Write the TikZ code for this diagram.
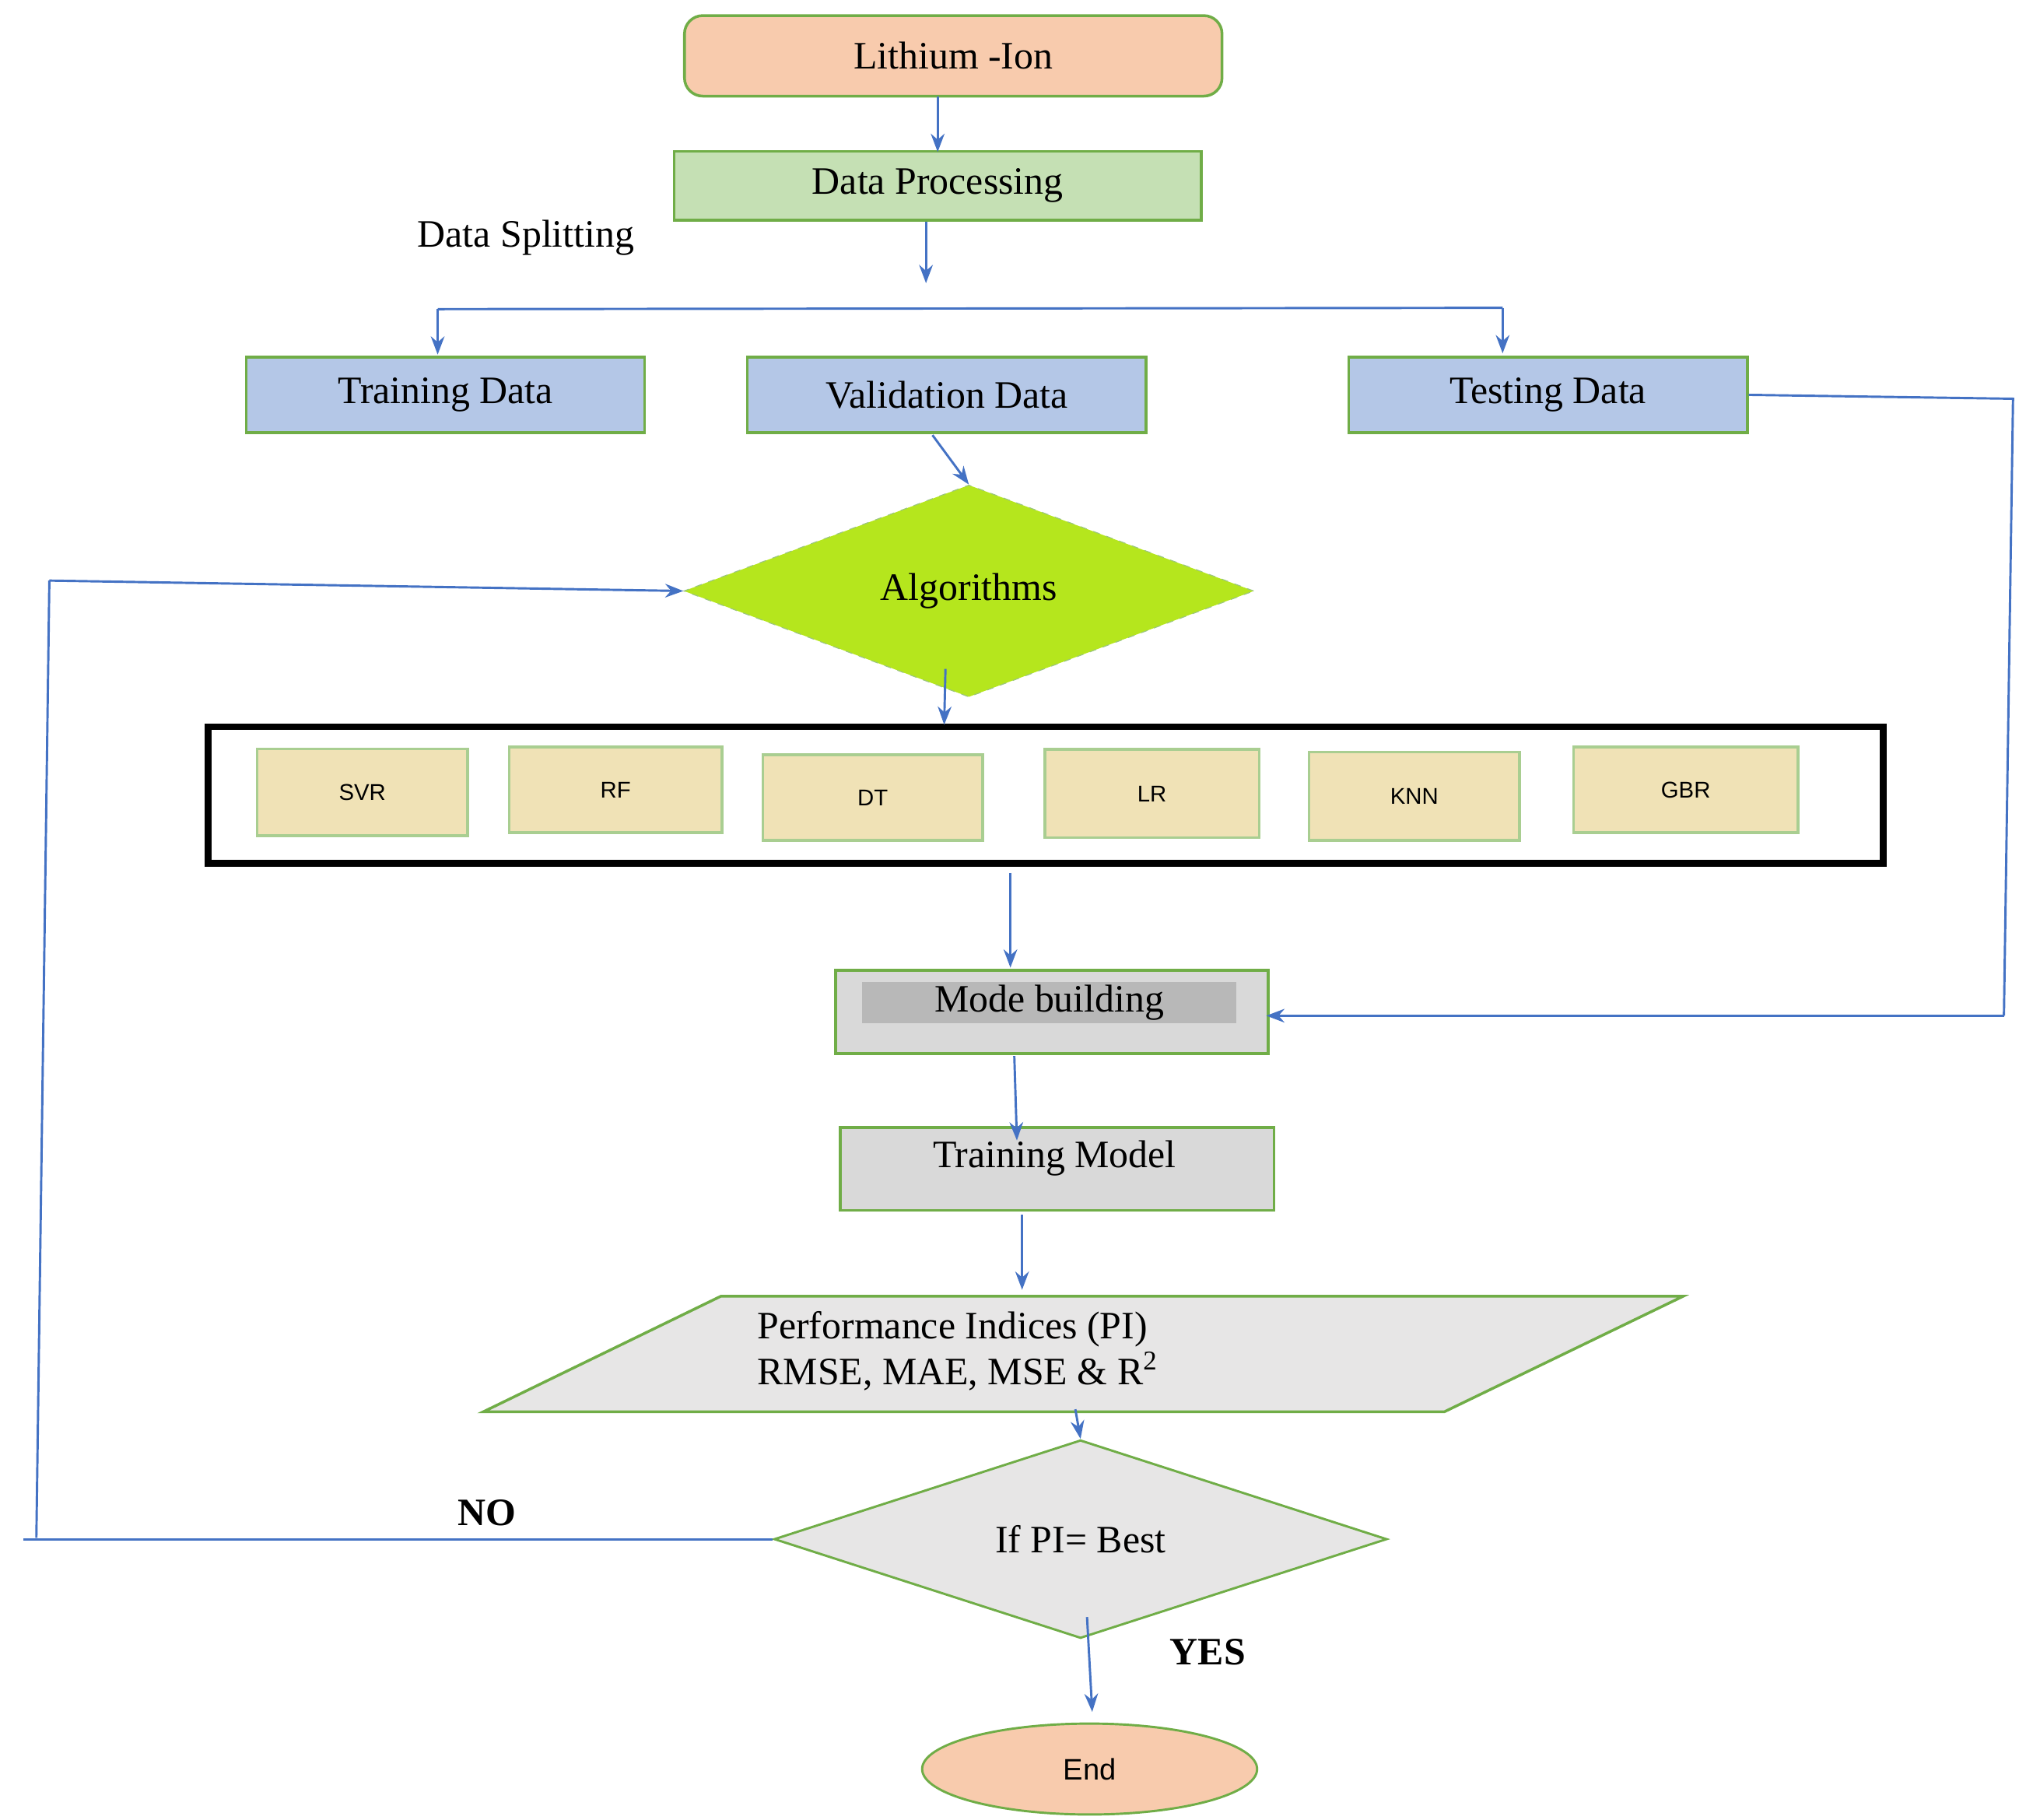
\documentclass[tikz,border=0pt]{standalone}
\usepackage{fontspec}
\setmainfont{Liberation Serif}
\newfontfamily\sansf{Liberation Sans}
\usetikzlibrary{shapes.geometric,arrows.meta}
\definecolor{peach}{HTML}{F8CBAD}
\definecolor{lgreen}{HTML}{C5E0B4}
\definecolor{lblue}{HTML}{B4C7E7}
\definecolor{bord}{HTML}{70AD47}
\definecolor{arr}{HTML}{4472C4}
\definecolor{khaki}{HTML}{F0E2B6}
\definecolor{lime}{HTML}{B5E61D}
\definecolor{gry}{HTML}{D9D9D9}
\definecolor{gry2}{HTML}{E7E6E6}
\begin{document}
\begin{tikzpicture}[x=0.02cm,y=-0.02cm,
  box/.style={draw=bord,line width=1.2pt,inner sep=0pt,font=\fontsize{17}{20}\selectfont},
  alg/.style={draw=bord!60,fill=khaki,line width=1.2pt,minimum width=3.2cm,minimum height=1.3cm,inner sep=0pt,font=\sansf\fontsize{10}{12}\selectfont},
  ar/.style={draw=arr,line width=1pt,-{Stealth[length=8pt]}},
  ln/.style={draw=arr,line width=1pt}]
\useasboundingbox (0,0) rectangle (1560,1401);
\node[box,rounded corners=8pt,fill=peach,minimum width=8.28cm,minimum height=1.24cm] (li) at (734,43) {Lithium -Ion};
\node[box,fill=lgreen,minimum width=8.12cm,minimum height=1.06cm] (dp) at (722,143) {Data Processing};
\node[font=\fontsize{17}{20}\selectfont] (ds) at (405,183) {Data Splitting};
\coordinate (dpe) at (713,218);
\node[box,fill=lblue,minimum width=6.14cm,minimum height=1.16cm] (tr) at (343,304) {Training Data};
\node[box,fill=lblue,minimum width=6.14cm,minimum height=1.16cm] (va) at (729,304) {Validation Data};
\node[box,fill=lblue,minimum width=6.14cm,minimum height=1.16cm] (te) at (1192,304) {Testing Data};
\node[diamond,draw=bord!70,dashed,fill=lime,minimum width=8.78cm,minimum height=2.28cm,inner sep=0pt,font=\fontsize{17}{20}\selectfont] (al) at (746,455) {Algorithms};
\node[draw=black,line width=3pt,minimum width=25.8cm,minimum height=2.1cm,inner sep=0pt] (bx) at (805,612) {};
\node[alg,minimum width=3.24cm,minimum height=1.34cm] (svr) at (279,610) {SVR};
\node[alg,minimum width=3.28cm,minimum height=1.32cm] (rf) at (474,608) {RF};
\node[alg,minimum width=3.38cm,minimum height=1.32cm] (dt) at (672,614) {DT};
\node[alg,minimum width=3.3cm,minimum height=1.36cm] (lr) at (887,611) {LR};
\node[alg,minimum width=3.24cm,minimum height=1.36cm] (knn) at (1089,613) {KNN};
\node[alg,minimum width=3.46cm,minimum height=1.32cm] (gbr) at (1298,608) {GBR};
\node[box,fill=gry,minimum width=6.66cm,minimum height=1.28cm] (mb) at (810,779) {};
\node[fill=gry!85!black,minimum width=5.76cm,minimum height=0.64cm,inner sep=0pt,font=\fontsize{17}{20}\selectfont] at (808,772) {Mode building};
\node[box,fill=gry,minimum width=6.68cm,minimum height=1.28cm] (tm) at (814,900) {};
\node[font=\fontsize{17}{20}\selectfont] at (812,892) {Training Model};
\draw[draw=bord,line width=1.2pt,fill=gry2] (372,1087) -- (555,998) -- (1296,998) -- (1112,1087) -- cycle;
\node[font=\fontsize{17}{20}\selectfont,align=left,anchor=west] (pi) at (577,1040) {Performance Indices (PI)\\RMSE, MAE, MSE \& R\textsuperscript{2}};
\coordinate (pit) at (787,993);
\coordinate (pib) at (828,1085);
\node[diamond,draw=bord,line width=1pt,fill=gry2,minimum width=9.44cm,minimum height=2.06cm,inner sep=0pt,font=\fontsize{17}{20}\selectfont] (if) at (832,1185) {If PI= Best};
\node[ellipse,draw=bord,line width=1pt,fill=peach,minimum width=5.16cm,minimum height=1.4cm,font=\sansf\fontsize{13}{15}\selectfont] (end) at (839,1362) {End};
\node[font=\bfseries\fontsize{17}{20}\selectfont] (no) at (375,1165) {NO};
\node[font=\bfseries\fontsize{17}{20}\selectfont] (yes) at (930,1272) {YES};
% connectors
\draw[ar] (722,74) -- (722,117);
\draw[ar] (dp.south -| dpe) -- (dpe);
\draw[ln] (337,238) -- (1157,237);
\draw[ar] (337,238) -- (337,273);
\draw[ar] (1157,237) -- (1157,272);
\draw[ar] (718,335) -- (al.north);
\draw[ar] (728,515) -- (727,558);
\draw[ar] (778,672) -- (778,745);
\draw[ln] (te.east) -- (1550,307) -- (1543,782);
\draw[ar] (1543,782) -- (975,782);
\draw[ar] (781,813) -- (783,878);
\draw[ar] (787,935) -- (pit);
\draw[ar] (pib) -- (if.north);
\draw[ln] (if.west) -- (18,1185);
\draw[ln] (28,1184) -- (38,447);
\draw[ar] (38,447) -- (al.west);
\draw[ar] (837,1245) -- (841,1318);
\end{tikzpicture}
\end{document}
